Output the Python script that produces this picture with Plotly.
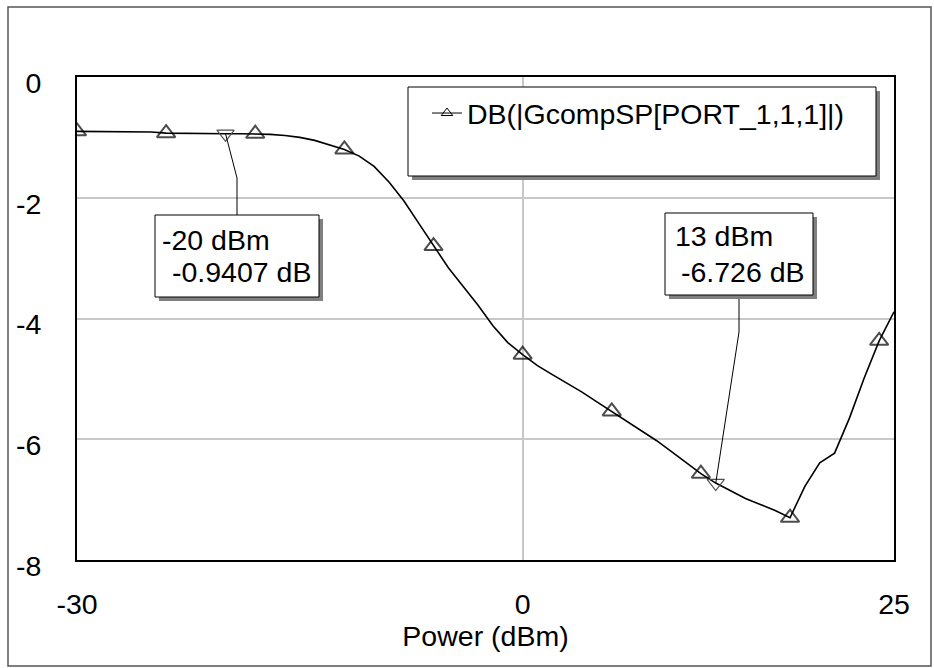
import plotly.graph_objects as go

# ---------------- data ----------------
power_dbm = list(range(-30, 26))
gain_db = [
    -0.90, -0.90, -0.90, -0.90, -0.90, -0.91, -0.93, -0.935, -0.94, -0.94,
    -0.9407, -0.94, -0.94, -0.95, -0.97, -1.00, -1.05, -1.12, -1.20, -1.31,
    -1.48, -1.74, -2.05, -2.42, -2.80, -3.16, -3.47, -3.78, -4.12, -4.40,
    -4.60, -4.78, -4.93, -5.07, -5.22, -5.38, -5.54, -5.70, -5.87, -6.02,
    -6.20, -6.38, -6.57, -6.726, -6.86, -6.98, -7.08, -7.18, -7.30, -6.78,
    -6.39, -6.23, -5.65, -4.98, -4.37, -3.89,
]
marker_every = 6
series_name = "DB(|GcompSP[PORT_1,1,1]|)"
x_ticks = [-30, 0, 25]
y_ticks = [0, -2, -4, -6, -8]
x_title = "Power (dBm)"

marker_x = [-20, 13]
marker_y = [-0.9407, -6.726]
marker_lines = [["-20 dBm", "-0.9407 dB"], ["13 dBm", "-6.726 dB"]]

# ---------------- geometry (pixels) ----------------
W, H = 934, 668
L, R, T, B = 77, 40, 77, 108
XMIN, XMAX, YMIN, YMAX = -30, 25, -8, 0
PW, PH = W - L - R, H - T - B


def dx(px):
    return XMIN + (px - L) / PW * (XMAX - XMIN)


def dy(py):
    return YMAX - (py - T) / PH * (YMAX - YMIN)


def papx(px):
    return (px - L) / PW


def papy(py):
    return (H - B - py) / PH


FONT = "Liberation Sans, Arial, sans-serif"
FS = 28.5

fig = go.Figure()

sizes = [16 if i % marker_every == 0 else 0 for i in range(len(power_dbm))]
fig.add_trace(go.Scatter(
    x=power_dbm, y=gain_db, mode="lines+markers", name=series_name,
    line=dict(color="black", width=1.6),
    marker=dict(symbol="triangle-up-open", size=sizes, color="black",
                line=dict(color="black", width=2)),
    showlegend=False, legendgroup="g",
))

# legend entry (same series, drawn with a thin line and small marker like the original)
fig.add_trace(go.Scatter(
    x=[None], y=[None], mode="lines+markers", name=series_name, legendgroup="g",
    line=dict(color="black", width=1),
    marker=dict(symbol="triangle-up-open", size=10, color="black",
                line=dict(color="black", width=1)),
    showlegend=True,
))

fig.add_trace(go.Scatter(
    x=marker_x, y=marker_y, mode="markers", showlegend=False,
    marker=dict(symbol="triangle-down-open", size=15, color="#505050",
                line=dict(color="#505050", width=1.2)),
))

shapes = []
annotations = []

# outer frame
shapes.append(dict(type="rect", xref="paper", yref="paper",
                   x0=papx(8), x1=papx(931), y0=papy(666), y1=papy(7),
                   line=dict(color="#555555", width=1.5), layer="below"))

# legend box with shadow
lb = (408, 87, 876, 176)
shapes.append(dict(type="rect", xref="paper", yref="paper",
                   x0=papx(lb[0] + 4), x1=papx(lb[2] + 4), y0=papy(lb[3] + 4), y1=papy(lb[1] + 4),
                   fillcolor="#808080", line=dict(width=0), layer="above"))
shapes.append(dict(type="rect", xref="paper", yref="paper",
                   x0=papx(lb[0]), x1=papx(lb[2]), y0=papy(lb[3]), y1=papy(lb[1]),
                   fillcolor="white", line=dict(color="black", width=1), layer="above"))

# marker boxes: (box px), bend px, attach px, text positions
boxes = [
    dict(box=(155, 215, 319, 297), bend=(237, 178), attach=(237, 215),
         text_pos=[(160, 240), (170, 272)]),
    dict(box=(665, 213, 813, 295), bend=(739, 332), attach=(739, 295),
         text_pos=[(673, 236), (679, 272)]),
]
for i, bx in enumerate(boxes):
    x0, y0, x1, y1 = bx["box"]
    path = "M {:.4f},{:.4f} L {:.4f},{:.4f} L {:.4f},{:.4f}".format(
        marker_x[i], marker_y[i], dx(bx["bend"][0]), dy(bx["bend"][1]),
        dx(bx["attach"][0]), dy(bx["attach"][1]))
    shapes.append(dict(type="path", xref="x", yref="y", path=path,
                       line=dict(color="black", width=1), layer="above"))
    shapes.append(dict(type="rect", xref="x", yref="y",
                       x0=dx(x0 + 4), x1=dx(x1 + 4), y0=dy(y1 + 4), y1=dy(y0 + 4),
                       fillcolor="#808080", line=dict(width=0), layer="above"))
    shapes.append(dict(type="rect", xref="x", yref="y",
                       x0=dx(x0), x1=dx(x1), y0=dy(y1), y1=dy(y0),
                       fillcolor="white", line=dict(color="black", width=1), layer="above"))
    for (tx, ty), txt in zip(bx["text_pos"], marker_lines[i]):
        annotations.append(dict(x=dx(tx), y=dy(ty), xref="x", yref="y", text=txt,
                                showarrow=False, xanchor="left", yanchor="middle",
                                font=dict(family=FONT, size=FS, color="black")))

fig.update_layout(
    width=W, height=H,
    margin=dict(l=L, r=R, t=T, b=B, pad=0),
    paper_bgcolor="white", plot_bgcolor="white",
    font=dict(family=FONT, size=FS, color="black"),
    showlegend=True,
    legend=dict(x=papx(427), y=papy(88), xanchor="left", yanchor="top",
                bgcolor="rgba(0,0,0,0)", borderwidth=0,
                font=dict(family=FONT, size=FS, color="black")),
    shapes=shapes,
    annotations=annotations,
    xaxis=dict(range=[XMIN, XMAX], tickvals=x_ticks, ticktext=[str(v) for v in x_ticks],
               showgrid=True, gridcolor="#c8c8c8", gridwidth=1.5, zeroline=False,
               showline=True, linecolor="black", linewidth=2, mirror=True,
               ticks="", ticklabelstandoff=18,
               title=dict(text=x_title, standoff=0, font=dict(family=FONT, size=FS)),
               tickfont=dict(family=FONT, size=FS, color="black")),
    yaxis=dict(range=[YMIN, YMAX], tickvals=y_ticks, ticktext=[str(v) for v in y_ticks],
               showgrid=True, gridcolor="#c8c8c8", gridwidth=1.5, zeroline=False,
               showline=True, linecolor="black", linewidth=2, mirror=True,
               ticks="", ticklabelstandoff=28, ticklabelshift=6,
               tickfont=dict(family=FONT, size=FS, color="black")),
)

fig.write_html("out.html")
